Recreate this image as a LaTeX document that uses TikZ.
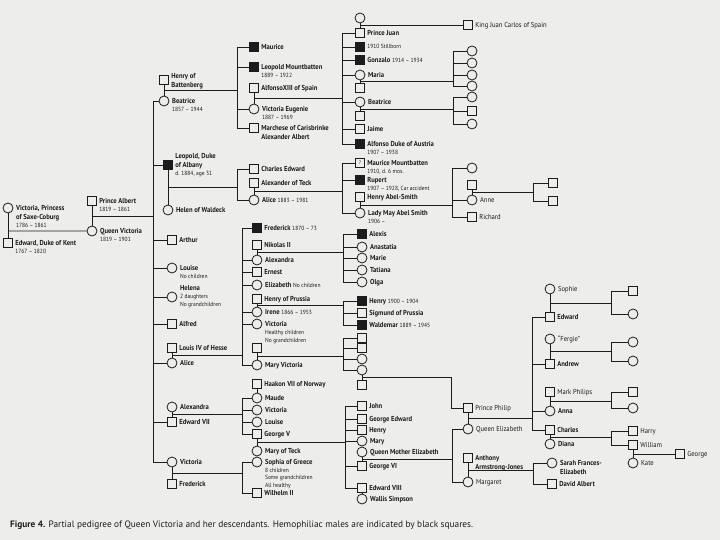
\documentclass[tikz,border=0pt]{standalone}
\usepackage{fontspec}
\setmainfont{PT Sans}
\newfontfamily\namefont{PT Sans}[FakeStretch=0.92]
\usetikzlibrary{calc,positioning}
\definecolor{ScanPaper}{HTML}{EDEDEB}
\definecolor{ScanInk}{HTML}{1C1C1C}
\newcommand{\nmfont}{\namefont\fontsize{7.2}{9}\selectfont\bfseries}
\newcommand{\dates}{\mdseries\fontsize{6}{8}\selectfont}
\newcommand{\capfont}{\fontsize{9.3}{11}\selectfont}
\tikzset{
  every node/.style={text=ScanInk},
  link/.style={draw=ScanInk, line width=0.8pt},
  male/.style={draw=ScanInk, line width=0.8pt, fill=ScanPaper, minimum size=8.5pt, inner sep=0pt},
  female/.style={circle, draw=ScanInk, line width=0.8pt, fill=ScanPaper, minimum size=10pt, inner sep=0pt},
  hemo/.style={male, fill=ScanInk},
  tag/.style={anchor=north west, xshift=2.5pt, yshift=2.9pt, inner sep=0pt, align=left, font=\nmfont},
  ctag/.style={anchor=west, xshift=2.5pt, inner sep=0pt, align=left, font=\nmfont},
}
\begin{document}
\begin{tikzpicture}[x=1pt, y=-1pt]
  % Paper
  \fill[ScanPaper] (0,0) rectangle (720,540);
  \useasboundingbox (0,0) rectangle (720,540);

  % Generation 0
  \node[female, label={[tag]east:{Victoria, Princess\\of Saxe-Coburg\\[-1pt]{\dates 1786 – 1861}}}] (vicSC) at (8,208) {};
  \node[male, label={[tag]east:{Edward, Duke of Kent\\[-1pt]{\dates 1767 – 1820}}}] (edKent) at (8,243) {};
  \node[male, label={[tag]east:{Prince Albert\\[-1pt]{\dates 1819 – 1861}}}] (albert) at (92,201) {};
  \node[female, label={[tag]east:{Queen Victoria\\[-1pt]{\dates 1819 – 1901}}}] (queenV) at (92,231) {};
  \draw[link] (vicSC) -- (edKent);
  \coordinate (mKent) at ($(vicSC)!.66!(edKent)$);
  \draw[link] (mKent) -- (queenV);
  \draw[link] (albert) -- (queenV);
  \coordinate (mAlbert) at ($(albert)!.5!(queenV)$);
  \coordinate (bVic) at (153,0);
  \draw[link] (mAlbert) -- (mAlbert -| bVic);

  % Queen Victoria's children
  \node[male, label={[tag, yshift=4pt]east:{Henry of\\Battenberg}}] (henryB) at (164,80) {};
  \node[female, label={[tag]east:{Beatrice\\[-1pt]{\dates 1857 – 1944}}}] (beatrice) at (164,101) {};
  \node[hemo, label={[ctag]east:{Leopold, Duke\\of Albany\\[-1pt]{\dates d. 1884, age 31}}}] (leopold) at (168,165) {};
  \node[female, label={[tag]east:{Helen of Waldeck}}] (helen) at (168,210) {};
  \node[male, label={[tag]east:{Arthur}}] (arthur) at (172,240) {};
  \node[female, label={[tag]east:{Louise\\[-1pt]{\dates No children}}}] (louise) at (172,268) {};
  \node[female, label={[ctag]east:{Helena\\[-1pt]{\dates 2 daughters}\\[-1pt]{\dates No grandchildren}}}] (helena) at (172,297) {};
  \node[male, label={[tag]east:{Alfred}}] (alfred) at (172,324) {};
  \node[male, label={[tag]east:{Louis IV of Hesse}}] (louis) at (172,348) {};
  \node[female, label={[tag]east:{Alice}}] (alice) at (172,363) {};
  \node[female, label={[tag]east:{Alexandra}}] (alexandra) at (172,407) {};
  \node[male, label={[tag]east:{Edward VII}}] (edward7) at (172,422) {};
  \node[female, label={[tag]east:{Victoria}}] (victoriaD) at (172,462) {};
  \node[male, label={[tag]east:{Frederick}}] (frederick) at (172,484) {};
  \draw[link] (bVic |- beatrice) -- (bVic |- victoriaD);
  \foreach \n in {beatrice,leopold,arthur,louise,helena,alfred,alice,edward7,victoriaD}
    \draw[link] (bVic |- \n) -- (\n);
  \foreach \a/\b in {henryB/beatrice, leopold/helen, louis/alice, alexandra/edward7, victoriaD/frederick}
    \draw[link] (\a) -- (\b);

  % Grandchildren
  \node[hemo, label={[tag]east:{Maurice}}] (maurice) at (254,47) {};
  \node[hemo, label={[tag]east:{Leopold Mountbatten\\[-1pt]{\dates 1889 – 1922}}}] (leopoldM) at (254,67) {};
  \node[male, label={[tag]east:{AlfonsoXIII of Spain}}] (alfonso13) at (254,88) {};
  \node[female, label={[tag]east:{Victoria Eugenie\\[-1pt]{\dates 1887 – 1969}}}] (vicEug) at (254,109) {};
  \node[male, label={[tag]east:{Marchese of Carisbrinke\\Alexander Albert}}] (marchese) at (254,128) {};
  \node[male, label={[tag]east:{Charles Edward}}] (charlesE) at (254,169) {};
  \node[male, label={[tag]east:{Alexander of Teck}}] (alexTeck) at (254,183) {};
  \node[female, label={[tag]east:{Alice {\dates 1883 – 1981}}}] (aliceA) at (254,200) {};
  \node[hemo, label={[tag]east:{Frederick {\dates 1870 – 73}}}] (frederickH) at (257,228) {};
  \node[male, label={[tag]east:{Nikolas II}}] (nikolas) at (257,245) {};
  \node[female, label={[tag]east:{Alexandra}}] (alexandraH) at (257,260) {};
  \node[male, label={[tag]east:{Ernest}}] (ernest) at (257,272) {};
  \node[female, label={[tag]east:{Elizabeth {\dates No children}}}] (elizabethH) at (257,285) {};
  \node[male, label={[tag]east:{Henry of Prussia}}] (henryP) at (257,299) {};
  \node[female, label={[tag]east:{Irene {\dates 1866 – 1953}}}] (irene) at (257,312) {};
  \node[female, label={[tag]east:{Victoria\\[-1pt]{\dates Healthy children}\\[-1pt]{\dates No grandchildren}}}] (victoriaH) at (257,324) {};
  \node[male] (marySp) at (257,348) {};
  \node[female, label={[tag]east:{Mary Victoria}}] (maryV) at (257,365) {};
  \node[male, label={[tag]east:{Haakon VII of Norway}}] (haakon) at (257,384) {};
  \node[female, label={[tag]east:{Maude}}] (maude) at (257,398) {};
  \node[female, label={[tag]east:{Victoria}}] (victoriaE) at (257,410) {};
  \node[female, label={[tag]east:{Louise}}] (louiseE) at (257,422) {};
  \node[male, label={[tag]east:{George V}}] (george5) at (257,434) {};
  \node[female, label={[tag]east:{Mary of Teck}}] (maryTeck) at (257,451) {};
  \node[female, label={[tag]east:{Sophia of Greece\\[-1.2pt]{\dates 8 children}\\[-1.5pt]{\dates Some grandchildren}\\[-1.5pt]{\dates All healthy}}}] (sophiaG) at (257,462) {};
  \node[male, label={[tag]east:{Wilhelm II}}] (wilhelm) at (257,493) {};
  \foreach \a/\b in {alfonso13/vicEug, alexTeck/aliceA, nikolas/alexandraH, henryP/irene, marySp/maryV, haakon/maude, george5/maryTeck}
    \draw[link] (\a) -- (\b);
  \coordinate (bBeat) at (237,0);
  \coordinate (bLeo) at (237,0);
  \coordinate (bAlice) at (242,0);
  \coordinate (bEd7) at (242,0);
  \coordinate (bVicD) at (242,0);
  \foreach \m/\p/\q/\b in {mBeat/henryB/beatrice/bBeat, mLeo/leopold/helen/bLeo, mAlice/louis/alice/bAlice, mEd7/alexandra/edward7/bEd7, mVicD/victoriaD/frederick/bVicD} {
    \coordinate (\m) at ($(\p)!.5!(\q)$);
    \draw[link] (\m) -- (\m -| \b);
  }
  \draw[link] (bBeat |- maurice) -- (bBeat |- marchese);
  \foreach \n in {maurice,leopoldM,vicEug,marchese}
    \draw[link] (bBeat |- \n) -- (\n);
  \draw[link] (bLeo |- charlesE) -- (bLeo |- aliceA);
  \foreach \n in {charlesE,aliceA}
    \draw[link] (bLeo |- \n) -- (\n);
  \draw[link] (bAlice |- frederickH) -- (bAlice |- maryV);
  \foreach \n in {frederickH,alexandraH,ernest,elizabethH,irene,victoriaH,maryV}
    \draw[link] (bAlice |- \n) -- (\n);
  \draw[link] (bEd7 |- maude) -- (bEd7 |- george5);
  \foreach \n in {maude,victoriaE,louiseE,george5}
    \draw[link] (bEd7 |- \n) -- (\n);
  \draw[link] (bVicD |- sophiaG) -- (bVicD |- wilhelm);
  \foreach \n in {sophiaG,wilhelm}
    \draw[link] (bVicD |- \n) -- (\n);

  % Great-grandchildren
  \node[female] (juanWife) at (360,18) {};
  \node[male, label={[tag]east:{Prince Juan}}] (juan) at (360,33) {};
  \node[hemo, label={[tag]east:{\dates 1910 Stillborn}}] (stillborn) at (360,47) {};
  \node[hemo, label={[tag]east:{Gonzalo {\dates 1914 – 1934}}}] (gonzalo) at (360,60) {};
  \node[female, label={[tag]east:{Maria}}] (maria) at (360,75) {};
  \node[male] (mariaSp) at (360,88) {};
  \node[female, label={[tag]east:{Beatrice}}] (beatriceS) at (360,102) {};
  \node[male] (beaSp) at (360,116) {};
  \node[male, label={[tag]east:{Jaime}}] (jaime) at (360,129) {};
  \node[hemo, label={[tag]east:{Alfonso Duke of Austria\\[-1pt]{\dates 1907 – 1938}}}] (alfonsoA) at (360,144) {};
  \node[male, font=\fontsize{5}{5}\selectfont, label={[tag]east:{Maurice Mountbatten\\[-1pt]{\dates 1910, d. 6 mos.}}}] (maurM) at (360,163) {?};
  \node[hemo, label={[tag]east:{Rupert\\[-1pt]{\dates 1907 – 1928, Car accident}}}] (rupert) at (360,180) {};
  \node[male, label={[tag]east:{Henry Abel-Smith}}] (henryAS) at (360,197) {};
  \node[female, label={[tag]east:{Lady May Abel Smith\\[-1pt]{\dates 1906 –}}}] (ladyMay) at (360,213) {};
  \node[hemo, label={[tag]east:{Alexis}}] (alexis) at (362,234) {};
  \node[female, label={[tag]east:{Anastatia}}] (anastatia) at (362,247) {};
  \node[female, label={[tag]east:{Marie}}] (marie) at (362,258) {};
  \node[female, label={[tag]east:{Tatiana}}] (tatiana) at (362,270) {};
  \node[female, label={[tag]east:{Olga}}] (olga) at (362,282) {};
  \node[hemo, label={[tag]east:{Henry {\dates 1900 – 1904}}}] (henryI) at (362,301) {};
  \node[male, label={[tag]east:{Sigmund of Prussia}}] (sigmund) at (362,313) {};
  \node[hemo, label={[tag]east:{Waldemar {\dates 1889 – 1945}}}] (waldemar) at (362,325) {};
  \node[male] (batC1) at (362,338) {};
  \node[male] (batC2) at (362,348) {};
  \node[female] (batC3) at (362,359) {};
  \node[female] (aliceB) at (362,370) {};
  \node[male] (andrewG) at (362,385) {};
  \node[male, label={[tag]east:{John}}] (john) at (362,406) {};
  \node[male, label={[tag]east:{George Edward}}] (georgeEd) at (362,419) {};
  \node[male, label={[tag]east:{Henry}}] (henryG) at (362,430) {};
  \node[female, label={[tag]east:{Mary}}] (maryG) at (362,441) {};
  \node[female, label={[tag]east:{Queen Mother Elizabeth}}] (qMother) at (362,452) {};
  \node[male, label={[tag]east:{George VI}}] (george6) at (362,466) {};
  \node[male, label={[tag]east:{Edward VIII}}] (edward8) at (362,488) {};
  \node[female, label={[tag]east:{Wallis Simpson}}] (wallis) at (362,499) {};
  \foreach \a/\b in {juanWife/juan, maria/mariaSp, beatriceS/beaSp, henryAS/ladyMay, aliceB/andrewG, qMother/george6, edward8/wallis}
    \draw[link] (\a) -- (\b);
  \coordinate (bSpain) at (342,0);
  \coordinate (bTeck) at (342,0);
  \coordinate (bRus) at (343,0);
  \coordinate (bPru) at (343,0);
  \coordinate (bBat) at (343,0);
  \coordinate (bWin) at (345,0);
  \foreach \m/\p/\q/\b in {mAlf/alfonso13/vicEug/bSpain, mTeck/alexTeck/aliceA/bTeck, mNik/nikolas/alexandraH/bRus, mIrene/henryP/irene/bPru, mMaryV/marySp/maryV/bBat, mGeo/george5/maryTeck/bWin} {
    \coordinate (\m) at ($(\p)!.5!(\q)$);
    \draw[link] (\m) -- (\m -| \b);
  }
  \draw[link] (bSpain |- juan) -- (bSpain |- alfonsoA);
  \foreach \n in {juan,stillborn,gonzalo,maria,beatriceS,jaime,alfonsoA}
    \draw[link] (bSpain |- \n) -- (\n);
  \draw[link] (bTeck |- maurM) -- (bTeck |- ladyMay);
  \foreach \n in {maurM,rupert,ladyMay}
    \draw[link] (bTeck |- \n) -- (\n);
  \draw[link] (bRus |- alexis) -- (bRus |- olga);
  \foreach \n in {alexis,anastatia,marie,tatiana,olga}
    \draw[link] (bRus |- \n) -- (\n);
  \draw[link] (bPru |- henryI) -- (bPru |- waldemar);
  \foreach \n in {henryI,sigmund,waldemar}
    \draw[link] (bPru |- \n) -- (\n);
  \draw[link] (bBat |- batC1) -- (bBat |- aliceB);
  \foreach \n in {batC1,batC2,batC3,aliceB}
    \draw[link] (bBat |- \n) -- (\n);
  \draw[link] (bWin |- john) -- (bWin |- edward8);
  \foreach \n in {john,georgeEd,henryG,maryG,george6,edward8}
    \draw[link] (bWin |- \n) -- (\n);

  % Spain and Teck lines
  \node[male, label={[tag]east:{\mdseries King Juan Carlos of Spain}}] (juanCarlos) at (468,25) {};
  \coordinate (mJuan) at ($(juanWife)!.5!(juan)$);
  \draw[link] (mJuan) -- (mJuan -| juanCarlos.west);
  \coordinate (bMaria) at (453,0);
  \foreach \y [count=\i] in {51,63,75,86} {
    \node[female] (mariaC\i) at (472,\y) {};
    \draw[link] (bMaria |- mariaC\i) -- (mariaC\i);
  }
  \coordinate (mMaria) at ($(maria)!.5!(mariaSp)$);
  \draw[link] (mMaria) -- (mMaria -| bMaria);
  \draw[link] (bMaria |- mariaC1) -- (bMaria |- mariaC4);
  \coordinate (bBea) at (453,0);
  \node[female] (beaC1) at (472,97) {};
  \node[male] (beaC2) at (472,111) {};
  \node[female] (beaC3) at (472,124) {};
  \coordinate (mBea) at ($(beatriceS)!.5!(beaSp)$);
  \draw[link] (mBea) -- (mBea -| bBea);
  \draw[link] (bBea |- beaC1) -- (bBea |- beaC3);
  \foreach \n in {beaC1,beaC2,beaC3}
    \draw[link] (bBea |- \n) -- (\n);
  \coordinate (bMay) at (452,0);
  \node[female] (mayC1) at (472,168) {};
  \node[male] (anneSp) at (472,185) {};
  \node[female, label={[tag]east:{\mdseries Anne}}] (anne) at (472,200) {};
  \node[male, label={[tag]east:{\mdseries Richard}}] (richard) at (472,217) {};
  \draw[link] (anneSp) -- (anne);
  \coordinate (mMay) at ($(henryAS)!.5!(ladyMay)$);
  \draw[link] (mMay) -- (mMay -| bMay);
  \draw[link] (bMay |- mayC1) -- (bMay |- richard);
  \foreach \n in {mayC1,anne,richard}
    \draw[link] (bMay |- \n) -- (\n);
  \coordinate (bAnne) at (533,0);
  \node[male] (anneC1) at (553,183) {};
  \node[male] (anneC2) at (553,201) {};
  \coordinate (mAnne) at ($(anneSp)!.5!(anne)$);
  \draw[link] (mAnne) -- (mAnne -| bAnne);
  \draw[link] (bAnne |- anneC1) -- (bAnne |- anneC2);
  \foreach \n in {anneC1,anneC2}
    \draw[link] (bAnne |- \n) -- (\n);

  % Windsor line
  \node[male, label={[tag]east:{\mdseries Prince Philip}}] (philip) at (468,408) {};
  \node[female, label={[tag]east:{\mdseries Queen Elizabeth}}] (qEliz) at (468,429) {};
  \node[male, label={[tag]east:{Anthony\\Armstrong-Jones}}] (armstrong) at (468,458) {};
  \node[female, label={[tag]east:{\mdseries Margaret}}] (margaret) at (468,482) {};
  \foreach \a/\b in {philip/qEliz, armstrong/margaret}
    \draw[link] (\a) -- (\b);
  \coordinate (bPhil) at (451,0);
  \coordinate (mPhil) at ($(aliceB)!.5!(andrewG)$);
  \draw[link] (mPhil) -- (mPhil -| bPhil) -- (bPhil |- philip) -- (philip);
  \coordinate (bG6) at (452,0);
  \coordinate (mG6) at ($(qMother)!.5!(george6)$);
  \draw[link] (mG6) -- (mG6 -| bG6);
  \draw[link] (bG6 |- qEliz) -- (bG6 |- margaret);
  \foreach \n in {qEliz,margaret}
    \draw[link] (bG6 |- \n) -- (\n);

  \node[female, label={[tag]east:{\mdseries Sophie}}] (sophie) at (550,289) {};
  \node[male, label={[tag]east:{Edward}}] (edwardW) at (550,317) {};
  \node[female, label={[tag]east:{\mdseries “Fergie”}}] (fergie) at (550,339) {};
  \node[male, label={[tag]east:{Andrew}}] (andrew) at (550,364) {};
  \node[male, label={[tag]east:{\mdseries Mark Philips}}] (markP) at (550,392) {};
  \node[female, label={[tag]east:{Anna}}] (anna) at (550,411) {};
  \node[male, label={[tag]east:{Charles}}] (charles) at (550,430) {};
  \node[female, label={[tag]east:{Diana}}] (diana) at (550,444) {};
  \node[female, label={[tag]east:{Sarah Frances-\\Elizabeth}}] (sarah) at (552,463) {};
  \node[male, label={[tag]east:{David Albert}}] (david) at (552,484) {};
  \foreach \a/\b in {sophie/edwardW, fergie/andrew, markP/anna, charles/diana}
    \draw[link] (\a) -- (\b);
  \coordinate (bQE) at (532,0);
  \coordinate (mQE) at ($(philip)!.5!(qEliz)$);
  \draw[link] (mQE) -- (mQE -| bQE);
  \draw[link] (bQE |- edwardW) -- (bQE |- charles);
  \foreach \n in {edwardW,andrew,anna,charles}
    \draw[link] (bQE |- \n) -- (\n);
  \coordinate (bMarg) at (533,0);
  \coordinate (mMarg) at ($(armstrong)!.5!(margaret)$);
  \draw[link] (mMarg) -- (mMarg -| bMarg);
  \draw[link] (bMarg |- sarah) -- (bMarg |- david);
  \foreach \n in {sarah,david}
    \draw[link] (bMarg |- \n) -- (\n);

  % Youngest generation
  \coordinate (bKids) at (611,0);
  \node[male] (edwC1) at (633,291) {};
  \node[female] (edwC2) at (633,314) {};
  \node[female] (andC1) at (633,342) {};
  \node[female] (andC2) at (633,361) {};
  \node[male] (annaC1) at (633,392) {};
  \node[female] (annaC2) at (633,408) {};
  \node[male, label={[tag]east:{\mdseries Harry}}] (harry) at (633,431) {};
  \node[male, label={[tag]east:{\mdseries William}}] (william) at (633,445) {};
  \node[female, label={[tag]east:{\mdseries Kate}}] (kate) at (633,463) {};
  \node[male, label={[tag]east:{\mdseries George}}] (george) at (680,454) {};
  \draw[link] (william) -- (kate);
  \coordinate (mWill) at ($(william)!.5!(kate)$);
  \draw[link] (mWill) -- (george);
  \foreach \m/\p/\q/\c/\d in {mEdw/sophie/edwardW/edwC1/edwC2, mAnd/fergie/andrew/andC1/andC2, mAnna/markP/anna/annaC1/annaC2, mCha/charles/diana/harry/william} {
    \coordinate (\m) at ($(\p)!.5!(\q)$);
    \draw[link] (\m) -- (\m -| bKids);
    \draw[link] (bKids |- \c) -- (bKids |- \d);
    \draw[link] (bKids |- \c) -- (\c);
    \draw[link] (bKids |- \d) -- (\d);
  }

  % Caption
  \node[anchor=base west, inner sep=0pt, font=\capfont] (caption) at (10,527)
    {\textbf{Figure 4.} Partial pedigree of Queen Victoria and her descendants. Hemophiliac males are indicated by black squares.};
\end{tikzpicture}
\end{document}
